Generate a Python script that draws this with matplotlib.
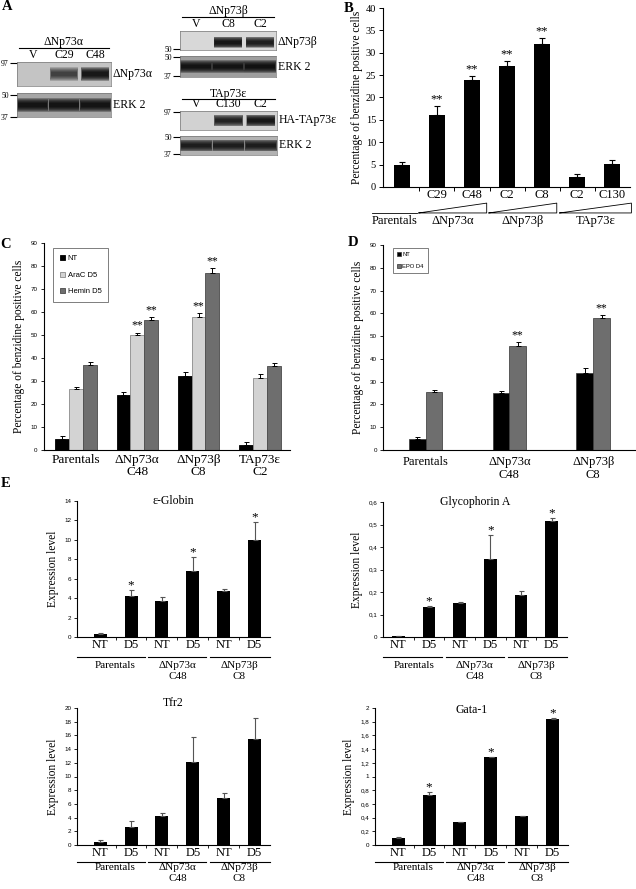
import numpy as np
import matplotlib
matplotlib.use('Agg')
import matplotlib.pyplot as plt
from matplotlib.transforms import offset_copy

W, H = 636, 889
SERIF = 'Liberation Serif'
SANS = 'Liberation Sans'

# ---------- data ----------
# A: western blots, relative band intensity per lane
lanes_a = ['V', 'C29', 'C48']
band_dnp73a = [0.0, 0.55, 0.95]
erk_a = [0.95, 0.95, 0.95]
lanes_b = ['V', 'C8', 'C2']
band_dnp73b = [0.0, 1.0, 0.9]
erk_b = [0.95, 0.95, 1.0]
lanes_c = ['V', 'C130', 'C2']
band_tap73e = [0.0, 0.85, 1.0]
erk_c = [0.85, 0.85, 0.85]

# B
clones_b = ['', 'C29', 'C48', 'C2', 'C8', 'C2', 'C130']
pct_b = [5.0, 16.0, 24.0, 27.0, 32.0, 2.3, 5.2]
err_b = [0.6, 2.0, 0.8, 1.1, 1.3, 0.7, 0.8]
stars_b = ['', '**', '**', '**', '**', '', '']
groups_b = ['Parentals', 'ΔNp73α', 'ΔNp73β', 'TAp73ε']
spans_b = [(-0.85, 0.42), (0.48, 2.42), (2.48, 4.42), (4.5, 6.55)]

# C
groups_c = ['Parentals', 'ΔNp73α\nC48', 'ΔNp73β\nC8', 'TAp73ε\nC2']
nt_c = [5.0, 24.0, 32.0, 2.3]
nt_c_err = [1.0, 1.3, 2.0, 1.2]
arac_c = [26.5, 50.0, 58.0, 31.5]
arac_c_err = [0.7, 1.0, 1.5, 1.7]
hemin_c = [37.0, 56.5, 77.0, 36.5]
hemin_c_err = [1.3, 1.3, 2.0, 1.3]
arac_stars = ['', '**', '**', '']
hemin_stars = ['', '**', '**', '']

# D
groups_d = ['Parentals', 'ΔNp73α\nC48', 'ΔNp73β\nC8']
nt_d = [5.0, 25.0, 34.0]
nt_d_err = [0.5, 0.8, 1.8]
epo_d = [25.5, 45.5, 58.0]
epo_d_err = [0.8, 1.7, 1.2]
epo_stars = ['', '**', '**']

# E
conds_e = ['NT', 'D5', 'NT', 'D5', 'NT', 'D5']
groups_e = ['Parentals', 'ΔNp73α\nC48', 'ΔNp73β\nC8']
globin = [0.3, 4.2, 3.75, 6.75, 4.75, 10.0]
globin_err = [0.12, 0.6, 0.4, 1.5, 0.2, 1.8]
glyco = [0.003, 0.132, 0.152, 0.345, 0.185, 0.515]
glyco_err = [0.002, 0.004, 0.003, 0.11, 0.02, 0.012]
tfr2 = [0.5, 2.7, 4.3, 12.1, 6.8, 15.5]
tfr2_err = [0.3, 0.8, 0.3, 3.7, 0.8, 3.1]
gata1 = [0.1, 0.73, 0.34, 1.28, 0.42, 1.84]
gata1_err = [0.01, 0.05, 0.0, 0.01, 0.01, 0.01]
stars_e = ['', '*', '', '*', '', '*']
no_stars = [''] * 6

fig = plt.figure(figsize=(W / 100, H / 100), dpi=100)


def px_axes(x0, y0, x1, y1):
    return fig.add_axes([x0 / W, 1 - y1 / H, (x1 - x0) / W, (y1 - y0) / H])


def fig_text(x, y, s, **kw):
    fig.text(x / W, 1 - y / H, s, **kw)


def clean(ax):
    for s in ['top', 'right']:
        ax.spines[s].set_visible(False)
    for s in ['left', 'bottom']:
        ax.spines[s].set_linewidth(0.8)


# ---------- A: blots ----------
def blot(box, lanes, bands, bg, label, marks, band_y=0.5, band_w=0.9,
         show_lanes=True, header=None):
    ax = px_axes(*box)
    ax.set_facecolor(bg)
    ax.set_xlim(-0.5, len(lanes) - 0.5)
    ax.set_ylim(0, 1)
    x = np.arange(len(lanes))
    # stacked translucent bars give a soft band edge
    for scale in [1.0, 0.85, 0.7, 0.55, 0.4, 0.28]:
        h = 0.62 * scale
        cols = [(0, 0, 0, 0.3 * v) for v in bands]
        ax.bar(x, h, bottom=band_y - h / 2, width=band_w * (0.9 + 0.1 * scale),
               color=cols, linewidth=0)
    for sp in ax.spines.values():
        sp.set_linewidth(0.5)
        sp.set_color('#777777')
    ax.set_yticks([m[0] for m in marks])
    ax.set_yticklabels([m[1] for m in marks], fontsize=5.5, family=SERIF)
    ax.tick_params(axis='y', length=5, width=0.8, pad=1)
    if show_lanes:
        ax.xaxis.tick_top()
        ax.set_xticks(x)
        ax.set_xticklabels(lanes, fontsize=8.5, family=SERIF)
        ax.tick_params(axis='x', length=0, pad=0.5)
    else:
        ax.set_xticks([])
    ax.text(1.02, band_y, label, transform=ax.transAxes, va='center',
            ha='left', fontsize=8.5, family=SERIF)
    if header is not None:
        text, dl, dt = header
        tl = offset_copy(ax.transAxes, fig=fig, y=dl, units='dots')
        ax.plot([0.02, 0.98], [1, 1], transform=tl, color='black', lw=0.8,
                clip_on=False)
        tt = offset_copy(ax.transAxes, fig=fig, y=dt, units='dots')
        ax.text(0.5, 1, text, transform=tt, ha='center', va='center',
                fontsize=8.5, family=SERIF)
    return ax


blot((17, 62, 111, 86), lanes_a, band_dnp73a, '#c4c4c4', 'ΔNp73α',
     [(0.95, '97')], header=('ΔNp73α', 14, 20))
blot((17, 93, 111, 117), lanes_a, erk_a, '#a6a6a6', 'ERK 2',
     [(0.9, '50'), (0.02, '37')], band_w=1.0, show_lanes=False)
blot((180, 31, 276, 50), lanes_b, band_dnp73b, '#d8d8d8', 'ΔNp73β',
     [(0.05, '50')], band_y=0.4, header=('ΔNp73β', 14, 20))
blot((180, 56, 276, 77), lanes_b, erk_b, '#9e9e9e', 'ERK 2',
     [(0.95, '50'), (0.05, '37')], band_w=1.0, show_lanes=False)
blot((180, 111, 277, 130), lanes_c, band_tap73e, '#d2d2d2', 'HA-TAp73ε',
     [(0.95, '97')], header=('TAp73ε', 12, 17))
blot((180, 136, 277, 155), lanes_c, erk_c, '#b2b2b2', 'ERK 2',
     [(0.95, '50'), (0.05, '37')], band_w=1.0, show_lanes=False)

# ---------- B ----------
axb = px_axes(383, 8, 630, 187)
clean(axb)
xb = np.arange(len(pct_b))
axb.bar(xb, pct_b, width=0.46, color='black')
axb.errorbar(xb, pct_b, yerr=[np.zeros(len(err_b)), err_b], fmt='none',
             ecolor='black', elinewidth=0.8, capsize=2.2, capthick=0.8)
for xi, v, e, s in zip(xb, pct_b, err_b, stars_b):
    if s:
        axb.text(xi, v + e + 0.2, s, ha='center', va='bottom', fontsize=9,
                 family=SERIF)
axb.set_xlim(-0.54, 6.51)
axb.set_ylim(0, 40)
axb.set_yticks(np.arange(0, 41, 5))
axb.set_yticklabels([str(v) for v in range(0, 41, 5)], fontsize=7.5, family=SERIF)
axb.set_xticks(xb)
axb.set_xticklabels(clones_b, fontsize=9, family=SERIF)
axb.set_xticks(xb[:-1] + 0.5, minor=True)
axb.tick_params(axis='x', which='major', length=0, pad=1.5)
axb.tick_params(axis='x', which='minor', length=3, width=0.7)
axb.tick_params(axis='y', length=3, width=0.7, pad=2)
axb.set_ylabel('Percentage of benzidine positive cells', fontsize=8.3,
               family=SERIF, labelpad=2)
tb = axb.get_xaxis_transform()
yb0, yb1 = -0.145, -0.09
for i, (a, b) in enumerate(spans_b):
    if i == 0:
        axb.plot([a, b], [yb0, yb0], transform=tb, color='black', lw=0.6,
                 clip_on=False)
    else:
        axb.plot([a, b, b, a], [yb0, yb1, yb0, yb0], transform=tb,
                 color='black', lw=0.6, clip_on=False)
    axb.text((a + b) / 2, -0.188, groups_b[i], transform=tb, ha='center',
             va='center', fontsize=9, family=SERIF)

# ---------- C ----------
axc = px_axes(44, 243, 290, 450)
clean(axc)
xc = np.arange(len(groups_c))
bw = 0.225
c_series = [(nt_c, nt_c_err, 'black', 'black', 'NT', None),
            (arac_c, arac_c_err, '#d3d3d3', '#8a8a8a', 'AraC D5', arac_stars),
            (hemin_c, hemin_c_err, '#6e6e6e', '#4a4a4a', 'Hemin D5', hemin_stars)]
for k, (vals, errs, fc, ec, lab, stars) in enumerate(c_series):
    pos = xc + (k - 1) * bw
    axc.bar(pos, vals, width=bw, color=fc, edgecolor=ec, linewidth=0.6, label=lab)
    axc.errorbar(pos, vals, yerr=[np.zeros(len(errs)), errs], fmt='none',
                 ecolor='black', elinewidth=0.7, capsize=1.8, capthick=0.7)
    if stars:
        for p, v, e, s in zip(pos, vals, errs, stars):
            if s:
                axc.text(p, v + e + 0.5, s, ha='center', va='bottom',
                         fontsize=8.5, family=SERIF)
axc.set_xlim(-0.52, 3.49)
axc.set_ylim(0, 90)
axc.set_yticks(np.arange(0, 91, 10))
axc.set_yticklabels([str(v) for v in range(0, 91, 10)], fontsize=4.5, family=SANS)
axc.set_xticks(xc)
axc.set_xticklabels(groups_c, fontsize=9.5, family=SERIF, linespacing=1.0)
axc.tick_params(axis='x', length=0, pad=3)
axc.tick_params(axis='y', length=2.5, width=0.6, pad=2)
axc.set_ylabel('Percentage of benzidine positive cells', fontsize=8.3,
               family=SERIF, labelpad=4)
leg = axc.legend(loc='upper left', bbox_to_anchor=(0.037, 0.975), frameon=True,
                 fancybox=False, prop={'family': SANS, 'size': 5.5},
                 handlelength=0.7, handleheight=0.7, handletextpad=0.3,
                 labelspacing=1.2, borderpad=0.9, borderaxespad=0)
leg.get_frame().set_edgecolor('#444444')
leg.get_frame().set_linewidth(0.6)

# ---------- D ----------
axd = px_axes(383, 245, 635, 450)
clean(axd)
xd = np.arange(len(groups_d))
bwd = 0.2
d_series = [(nt_d, nt_d_err, 'black', 'NT', None),
            (epo_d, epo_d_err, '#6e6e6e', 'EPO D4', epo_stars)]
for k, (vals, errs, fc, lab, stars) in enumerate(d_series):
    pos = xd + (k - 0.5) * bwd
    axd.bar(pos, vals, width=bwd, color=fc, edgecolor='#333333', linewidth=0.5,
            label=lab)
    axd.errorbar(pos, vals, yerr=[np.zeros(len(errs)), errs], fmt='none',
                 ecolor='black', elinewidth=0.7, capsize=1.8, capthick=0.7)
    if stars:
        for p, v, e, s in zip(pos, vals, errs, stars):
            if s:
                axd.text(p, v + e + 0.5, s, ha='center', va='bottom',
                         fontsize=8.5, family=SERIF)
axd.set_xlim(-0.51, 2.5)
axd.set_ylim(0, 90)
axd.set_yticks(np.arange(0, 91, 10))
axd.set_yticklabels([str(v) for v in range(0, 91, 10)], fontsize=4.5, family=SANS)
axd.set_xticks(xd)
axd.set_xticklabels(groups_d, fontsize=9, family=SERIF, linespacing=1.1)
axd.tick_params(axis='x', length=0, pad=4.5)
axd.tick_params(axis='y', length=2.5, width=0.6, pad=2)
axd.set_ylabel('Percentage of benzidine positive cells', fontsize=8.3,
               family=SERIF, labelpad=4)
leg = axd.legend(loc='upper left', bbox_to_anchor=(0.04, 0.985), frameon=True,
                 fancybox=False, prop={'family': SANS, 'size': 4.2},
                 handlelength=0.6, handleheight=0.6, handletextpad=0.3,
                 labelspacing=1.2, borderpad=0.7, borderaxespad=0)
leg.get_frame().set_edgecolor('#444444')
leg.get_frame().set_linewidth(0.6)


# ---------- E ----------
def fmt_comma(v):
    return '{:g}'.format(round(v, 1)).replace('.', ',')


def expr_panel(box, vals, errs, stars, title, title_y, ymax, ystep, xl,
               bwid, under_px, label_px, comma=False):
    ax = px_axes(*box)
    clean(ax)
    x = np.arange(len(vals))
    ax.bar(x, vals, width=bwid, color='black')
    ax.errorbar(x, vals, yerr=[np.zeros(len(errs)), errs], fmt='none',
                ecolor='#555555', elinewidth=0.8, capsize=1.8, capthick=0.8)
    for xi, v, e, s in zip(x, vals, errs, stars):
        if s:
            ax.text(xi, v + e - ymax * 0.01, s, ha='center', va='bottom',
                    fontsize=9.5, family=SERIF)
    ax.set_xlim(*xl)
    ax.set_ylim(0, ymax)
    ticks = np.arange(0, ymax + ystep / 2, ystep)
    ax.set_yticks(ticks)
    if comma:
        ax.set_yticklabels([fmt_comma(t) for t in ticks], fontsize=4.5, family=SANS)
    else:
        ax.set_yticklabels(['{:g}'.format(t) for t in ticks], fontsize=4.5,
                           family=SANS)
    ax.set_xticks(x)
    ax.set_xticklabels(conds_e, fontsize=9, family=SERIF)
    ax.set_xticks(x[:-1] + 0.5, minor=True)
    ax.tick_params(axis='x', which='major', length=0, pad=1.5)
    ax.tick_params(axis='x', which='minor', length=2, width=0.6)
    ax.tick_params(axis='y', length=2, width=0.6, pad=2)
    ax.set_ylabel('Expression level', fontsize=8.3, family=SERIF, labelpad=4)
    ax.text(0.5, title_y, title, transform=ax.transAxes, ha='center',
            va='center', fontsize=8.5, family=SERIF)
    tu = offset_copy(ax.get_xaxis_transform(), fig=fig, y=-under_px, units='dots')
    tl = offset_copy(ax.get_xaxis_transform(), fig=fig, y=-label_px, units='dots')
    n = len(groups_e)
    for i, g in enumerate(groups_e):
        a = xl[0] if i == 0 else 2 * i - 0.44
        b = xl[1] if i == n - 1 else 2 * i + 1.44
        ax.plot([a, b], [0, 0], transform=tu, color='black', lw=0.8, clip_on=False)
        ax.text(2 * i + 0.5, 0, g, transform=tl, ha='center', va='top',
                fontsize=8, family=SERIF, linespacing=1.25)
    return ax


expr_panel((77, 501, 270, 637), globin, globin_err, stars_e, 'ε-Globin', 1.0,
           14, 2, (-0.75, 5.5), 0.42, 20, 24)
expr_panel((383, 502, 567, 637), glyco, glyco_err, stars_e, 'Glycophorin A', 1.0,
           0.6, 0.1, (-0.5, 5.5), 0.42, 20, 24, comma=True)
expr_panel((77, 708, 270, 845), tfr2, tfr2_err, no_stars, 'Tfr2', 1.035,
           20, 2, (-0.75, 5.5), 0.42, 17, 18)
expr_panel((375, 708, 568, 845), gata1, gata1_err, stars_e, 'Gata-1', 0.985,
           2, 0.2, (-0.75, 5.5), 0.42, 17, 18, comma=True)

# panel letters
for x, y, s in [(7, 6, 'A'), (349, 8, 'B'), (6, 245, 'C'), (353, 243, 'D'),
                (6, 483, 'E')]:
    fig_text(x, y, s, ha='center', va='center', fontsize=10.5,
             fontweight='bold', family=SERIF)

fig.savefig('out.png', dpi=100)
